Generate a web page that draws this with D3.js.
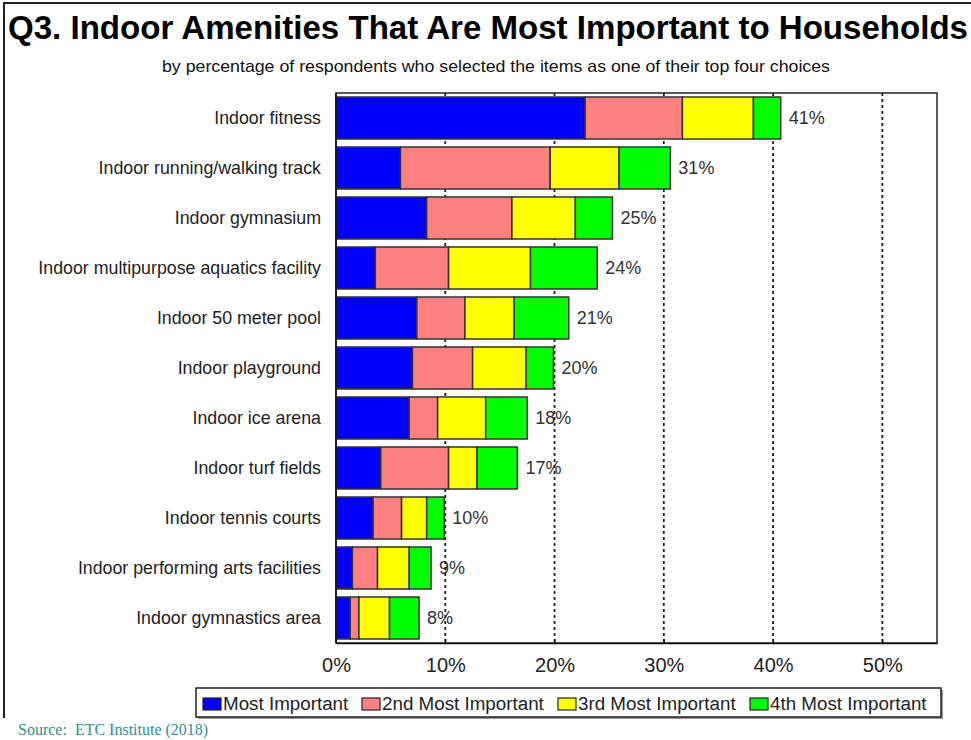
<!DOCTYPE html>
<html>
<head>
<meta charset="utf-8">
<script src="https://cdn.jsdelivr.net/npm/d3@7"></script>
<style>
  body { margin: 0; background: #fff; }
  svg { display: block; font-family: "Liberation Sans", Arial, sans-serif; }
</style>
</head>
<body>
<svg width="971" height="740"></svg>
<script>
const categories = [
  "Indoor fitness",
  "Indoor running/walking track",
  "Indoor gymnasium",
  "Indoor multipurpose aquatics facility",
  "Indoor 50 meter pool",
  "Indoor playground",
  "Indoor ice arena",
  "Indoor turf fields",
  "Indoor tennis courts",
  "Indoor performing arts facilities",
  "Indoor gymnastics area"
];
const most   = [22.8, 5.9, 8.3, 3.6, 7.4, 7.0, 6.7, 4.1, 3.4, 1.5, 1.3];
const second = [8.9, 13.7, 7.8, 6.7, 4.4, 5.5, 2.6, 6.2, 2.6, 2.3, 0.8];
const third  = [6.5, 6.3, 5.8, 7.5, 4.5, 4.9, 4.4, 2.6, 2.3, 2.9, 2.8];
const fourth = [2.5, 4.7, 3.4, 6.1, 5.0, 2.5, 3.8, 3.7, 1.6, 2.0, 2.7];
const totalLabels = ["41%", "31%", "25%", "24%", "21%", "20%", "18%", "17%", "10%", "9%", "8%"];
const seriesNames = ["Most Important", "2nd Most Important", "3rd Most Important", "4th Most Important"];
const colors = ["#0000ff", "#ff8080", "#ffff00", "#00ff00"];
const xTicks = [0, 10, 20, 30, 40, 50];

const svg = d3.select("svg");
const plotLeft = 336, plotRight = 937, plotTop = 93, plotBottom = 643;

// outer frame
svg.append("path")
  .attr("d", "M4,718 V3 H971")
  .attr("fill", "none")
  .attr("stroke", "#222")
  .attr("stroke-width", 2);

svg.append("text")
  .attr("x", 8).attr("y", 39)
  .attr("font-size", 33).attr("font-weight", "bold")
  .attr("fill", "#000")
  .attr("textLength", 960).attr("lengthAdjust", "spacingAndGlyphs")
  .text("Q3. Indoor Amenities That Are Most Important to Households");

svg.append("text")
  .attr("x", 162).attr("y", 72)
  .attr("font-size", 16.5).attr("fill", "#111")
  .attr("textLength", 668).attr("lengthAdjust", "spacingAndGlyphs")
  .text("by percentage of respondents who selected the items as one of their top four choices");

const x = d3.scaleLinear().domain([0, 55]).range([plotLeft, plotRight]);
const y = d3.scaleBand().domain(categories).range([plotTop, plotBottom])
  .paddingInner(0.16).paddingOuter(0.08);

const rows = categories.map((c, i) => ({
  cat: c, label: totalLabels[i],
  "Most Important": most[i], "2nd Most Important": second[i],
  "3rd Most Important": third[i], "4th Most Important": fourth[i]
}));
const stack = d3.stack().keys(seriesNames)(rows);

// plot area
svg.append("rect")
  .attr("x", plotLeft).attr("y", plotTop)
  .attr("width", plotRight - plotLeft).attr("height", plotBottom - plotTop)
  .attr("fill", "#fff").attr("stroke", "#333").attr("stroke-width", 1.6);

// category labels
svg.append("g").selectAll("text")
  .data(categories)
  .join("text")
  .attr("x", 321)
  .attr("y", d => y(d) + y.bandwidth() / 2)
  .attr("dy", "0.35em")
  .attr("text-anchor", "end")
  .attr("font-size", 17.8).attr("fill", "#222")
  .text(d => d);

// total labels (under the gridlines, like the original)
svg.append("g").selectAll("text")
  .data(rows)
  .join("text")
  .attr("x", (d, i) => x(stack[3][i][1]) + 8)
  .attr("y", d => y(d.cat) + y.bandwidth() / 2)
  .attr("dy", "0.35em")
  .attr("font-size", 18).attr("fill", "#333")
  .text(d => d.label);

// dotted gridlines
svg.append("g").selectAll("line")
  .data(xTicks.slice(1))
  .join("line")
  .attr("x1", d => x(d)).attr("x2", d => x(d))
  .attr("y1", plotTop).attr("y2", plotBottom)
  .attr("stroke", "#222").attr("stroke-width", 1.8)
  .attr("stroke-dasharray", "3,3");

// bars
svg.append("g").selectAll("g")
  .data(stack)
  .join("g")
  .attr("fill", (d, i) => colors[i])
  .selectAll("rect")
  .data(d => d)
  .join("rect")
  .attr("x", d => x(d[0]))
  .attr("y", d => y(d.data.cat))
  .attr("width", d => x(d[1]) - x(d[0]))
  .attr("height", y.bandwidth())
  .attr("stroke", "#333").attr("stroke-width", 1.5);

// x axis
const xAxis = svg.append("g")
  .attr("transform", `translate(0,${plotBottom})`)
  .call(d3.axisBottom(x).tickValues(xTicks).tickFormat(d => d + "%")
    .tickSizeInner(-4).tickSizeOuter(0).tickPadding(15));
xAxis.select(".domain").attr("stroke", "#111").attr("stroke-width", 1.5);
xAxis.selectAll(".tick line").attr("stroke", "#111");
xAxis.selectAll(".tick text")
  .attr("font-size", 20).attr("fill", "#222")
  .attr("font-family", "\"Liberation Sans\", Arial, sans-serif");

// left axis line
svg.append("line")
  .attr("x1", plotLeft).attr("x2", plotLeft).attr("y1", plotTop).attr("y2", plotBottom)
  .attr("stroke", "#111").attr("stroke-width", 1.5);

// legend
const legend = svg.append("g");
legend.append("rect")
  .attr("x", 198).attr("y", 690).attr("width", 745).attr("height", 29)
  .attr("fill", "#999");
legend.append("rect")
  .attr("x", 196).attr("y", 688).attr("width", 745).attr("height", 29)
  .attr("fill", "#fff").attr("stroke", "#222").attr("stroke-width", 1.5);
const legendX = [203, 362, 558, 750];
const items = legend.selectAll("g.item")
  .data(seriesNames)
  .join("g")
  .attr("class", "item")
  .attr("transform", (d, i) => `translate(${legendX[i]},0)`);
items.append("rect")
  .attr("x", 0).attr("y", 698).attr("width", 18).attr("height", 12)
  .attr("fill", (d, i) => colors[i])
  .attr("stroke", "#222").attr("stroke-width", 1.2);
items.append("text")
  .attr("x", 20).attr("y", 710)
  .attr("font-size", 18.8).attr("fill", "#222")
  .text(d => d);

svg.append("text")
  .attr("x", 18).attr("y", 735)
  .attr("font-family", "\"Liberation Serif\", \"Times New Roman\", serif")
  .attr("font-size", 16).attr("fill", "#2f8f8f")
  .attr("xml:space", "preserve")
  .text("Source:  ETC Institute (2018)");
</script>
</body>
</html>
